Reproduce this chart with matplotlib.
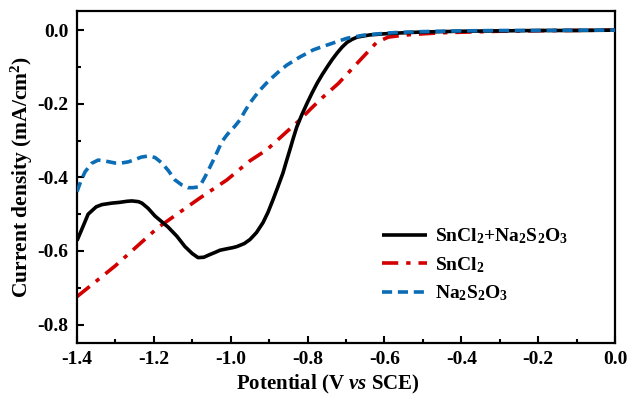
import matplotlib
matplotlib.use("Agg")
import matplotlib.pyplot as plt
from matplotlib.ticker import MultipleLocator, FuncFormatter

plt.rcParams['font.family'] = ['Liberation Serif', 'DejaVu Serif']
plt.rcParams['font.weight'] = 'bold'
plt.rcParams['mathtext.fontset'] = 'custom'
plt.rcParams['mathtext.rm'] = 'Liberation Serif:bold'
plt.rcParams['mathtext.bf'] = 'Liberation Serif:bold'
plt.rcParams['mathtext.it'] = 'Liberation Serif:italic:bold'

# Linear sweep voltammetry curves (potential in V vs SCE, current density in mA/cm^2)
mix_E = [-1.400, -1.385, -1.371, -1.350, -1.335, -1.310, -1.290, -1.270, -1.257,
         -1.240, -1.231, -1.215, -1.197, -1.180, -1.163, -1.140, -1.119, -1.100,
         -1.085, -1.070, -1.055, -1.041, -1.028, -1.010, -0.995, -0.984, -0.965,
         -0.950, -0.933, -0.916, -0.903, -0.890, -0.877, -0.864, -0.855, -0.846,
         -0.837, -0.828, -0.815, -0.801, -0.788, -0.775, -0.762, -0.749, -0.736,
         -0.723, -0.710, -0.697, -0.684, -0.671, -0.655, -0.638, -0.600, -0.567,
         -0.500, -0.400, -0.300, -0.200, -0.100, 0.000]
mix_j = [-0.572, -0.535, -0.500, -0.480, -0.474, -0.470, -0.468, -0.465, -0.464,
         -0.466, -0.470, -0.484, -0.505, -0.520, -0.535, -0.560, -0.588, -0.607,
         -0.618, -0.617, -0.610, -0.604, -0.598, -0.594, -0.591, -0.588, -0.580,
         -0.569, -0.550, -0.523, -0.495, -0.461, -0.425, -0.388, -0.356, -0.325,
         -0.293, -0.263, -0.230, -0.198, -0.170, -0.144, -0.121, -0.100, -0.080,
         -0.062, -0.046, -0.033, -0.025, -0.019, -0.016, -0.013, -0.010, -0.008,
         -0.005, -0.003, -0.002, -0.001, -0.001, 0.000]

sn_E = [-1.400, -1.300, -1.190, -1.080, -1.010, -0.950, -0.906, -0.850, -0.820,
        -0.790, -0.760, -0.720, -0.670, -0.620, -0.590, -0.560, -0.530, -0.450,
        -0.300, -0.150, 0.000]
sn_j = [-0.724, -0.640, -0.537, -0.456, -0.407, -0.355, -0.325, -0.272, -0.244,
        -0.212, -0.182, -0.145, -0.089, -0.033, -0.019, -0.015, -0.012, -0.007,
        -0.003, -0.001, 0.000]

na_E = [-1.400, -1.390, -1.379, -1.362, -1.345, -1.320, -1.301, -1.285, -1.267,
        -1.250, -1.233, -1.215, -1.197, -1.179, -1.162, -1.145, -1.128, -1.111,
        -1.098, -1.085, -1.076, -1.067, -1.054, -1.041, -1.023, -1.010, -1.002,
        -0.990, -0.976, -0.963, -0.950, -0.937, -0.924, -0.907, -0.890, -0.872,
        -0.854, -0.837, -0.820, -0.800, -0.786, -0.765, -0.742, -0.720, -0.697,
        -0.676, -0.656, -0.625, -0.593, -0.560, -0.500, -0.400, -0.300, -0.200,
        -0.100, 0.000]
na_j = [-0.439, -0.410, -0.385, -0.362, -0.353, -0.357, -0.361, -0.361, -0.358,
        -0.352, -0.345, -0.342, -0.346, -0.361, -0.382, -0.407, -0.420, -0.428,
        -0.428, -0.426, -0.416, -0.399, -0.372, -0.344, -0.303, -0.285, -0.275,
        -0.262, -0.244, -0.220, -0.198, -0.180, -0.163, -0.144, -0.127, -0.110,
        -0.095, -0.084, -0.073, -0.062, -0.054, -0.046, -0.038, -0.030, -0.022,
        -0.018, -0.014, -0.011, -0.008, -0.006, -0.004, -0.002, -0.001, -0.001,
        0.000, 0.000]

labels = [r'SnCl$_2$+Na$_2$S$_2$O$_3$', r'SnCl$_2$', r'Na$_2$S$_2$O$_3$']
colors = ['#000000', '#D40000', '#0B6DB5']

fig = plt.figure(figsize=(6.30, 4.01), dpi=100)
ax = fig.add_axes([0.1222, 0.1446, 0.8540, 0.8280])

ax.plot(mix_E, mix_j, color=colors[0], lw=2.6, solid_capstyle='butt', label=labels[0], zorder=3)
ax.plot(sn_E, sn_j, color=colors[1], lw=2.6, linestyle=(0, (4.5, 2.2, 1.2, 2.2)),
        label=labels[1], zorder=2)
ax.plot(na_E, na_j, color=colors[2], lw=2.6, linestyle=(0, (2.8, 1.6)),
        label=labels[2], zorder=4)

ax.set_xlim(-1.4, 0.0)
ax.set_ylim(-0.85, 0.052)
ax.xaxis.set_major_locator(MultipleLocator(0.2))
ax.xaxis.set_minor_locator(MultipleLocator(0.1))
ax.yaxis.set_major_locator(MultipleLocator(0.2))
ax.yaxis.set_minor_locator(MultipleLocator(0.1))
ax.tick_params(which='both', direction='in', width=1.5, labelsize=14, pad=6)
ax.tick_params(which='major', length=5)
ax.tick_params(which='minor', length=3)
for sp in ax.spines.values():
    sp.set_linewidth(1.6)

ax.xaxis.set_major_formatter(FuncFormatter(lambda v, p: f'{v:.1f}'))
ax.yaxis.set_major_formatter(FuncFormatter(lambda v, p: f'{v:.1f}'))
for lab in ax.get_xticklabels() + ax.get_yticklabels():
    lab.set_fontweight('bold')

ax.set_xlabel(r'Potential (V $\mathit{vs}$ SCE)', fontsize=15, fontweight='bold',
              labelpad=3, x=0.466)
ax.set_ylabel(r'Current density (mA/cm$^2$)', fontsize=15.5, fontweight='bold', labelpad=2)

leg = ax.legend(loc='upper left', bbox_to_anchor=(0.534, 0.403), frameon=False,
                handlelength=2.3, handletextpad=0.45, labelspacing=0.45,
                borderpad=0.4, prop={'weight': 'bold', 'size': 14})

fig.savefig('out.png', dpi=100)
